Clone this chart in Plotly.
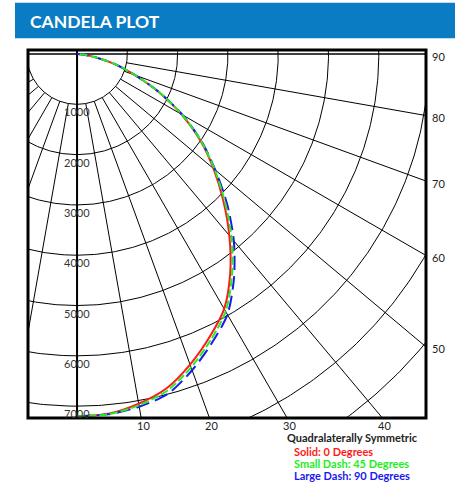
import numpy as np
import plotly.graph_objects as go

# ---------------- data ----------------
angles_deg = [0, 5, 10, 15, 20, 25, 30, 35, 40, 45, 50, 55, 60, 65, 70, 75, 80, 85, 90]
cd_0deg = [7200, 7180, 7060, 6880, 6570, 6220, 5850, 5310, 4710, 4110, 3540, 2990, 2400, 1800, 1220, 780, 380, 120, 0]
cd_45deg = [7200, 7190, 7090, 6930, 6630, 6280, 5910, 5370, 4780, 4160, 3570, 3010, 2410, 1810, 1230, 790, 380, 120, 0]
cd_90deg = [7200, 7190, 7120, 6990, 6690, 6340, 5980, 5440, 4850, 4220, 3590, 3020, 2420, 1810, 1230, 790, 380, 120, 0]

ring_values = [1000, 2000, 3000, 4000, 5000, 6000, 7000, 8000, 9000, 10000]
ring_labels = ["1000", "2000", "3000", "4000", "5000", "6000", "7000"]
spoke_angles = [-80, -70, -60, -50, -40, -30, -20, -10, 10, 20, 30, 40, 50, 60, 70, 80]
bottom_tick_angles = [10, 20, 30, 40]
right_tick_angles = [90, 80, 70, 60, 50]

title_text = "CANDELA PLOT"
note_text = "Quadralaterally Symmetric"
legend_texts = ["Solid: 0 Degrees", "Small Dash: 45 Degrees", "Large Dash: 90 Degrees"]
series_colors = ["#ff1a1a", "#22ee22", "#1a1aee"]

# ---------------- geometry ----------------
X_RANGE = [-975, 6938]
Y_RANGE = [-7236, 80]
W, H = 461, 482
ML, MR, MT, MB = 28, 35, 50, 64
PW, PH = W - ML - MR, H - MT - MB


def px_x(p):
    return (p - ML) / PW


def px_y(p):
    return (H - MB - p) / PH


def polar_xy(theta_deg, r):
    t = np.radians(np.asarray(theta_deg, dtype=float))
    r = np.asarray(r, dtype=float)
    return r * np.sin(t), -r * np.cos(t)


fig = go.Figure()

# rings
rx, ry = [], []
circ = np.linspace(0, 360, 721)
for rv in ring_values:
    x, y = polar_xy(circ, np.full_like(circ, rv))
    rx += list(x) + [None]
    ry += list(y) + [None]
fig.add_trace(go.Scatter(x=rx, y=ry, mode="lines", line=dict(color="black", width=1),
                         hoverinfo="skip", showlegend=False))

# spokes (from the first ring outward)
sx, sy = [], []
for a in spoke_angles:
    x, y = polar_xy([a, a], [ring_values[0], 20000])
    sx += list(x) + [None]
    sy += list(y) + [None]
fig.add_trace(go.Scatter(x=sx, y=sy, mode="lines", line=dict(color="black", width=1),
                         hoverinfo="skip", showlegend=False))

# axis lines through origin
fig.add_trace(go.Scatter(x=[X_RANGE[0], X_RANGE[1]], y=[0, 0], mode="lines",
                         line=dict(color="black", width=1.3), hoverinfo="skip", showlegend=False))
fig.add_trace(go.Scatter(x=[0, 0], y=[Y_RANGE[1], Y_RANGE[0]], mode="lines",
                         line=dict(color="black", width=2), hoverinfo="skip", showlegend=False))

# candela curves: red, blue, green (green on top)
x0, y0 = polar_xy(angles_deg, cd_0deg)
x45, y45 = polar_xy(angles_deg, cd_45deg)
x90, y90 = polar_xy(angles_deg, cd_90deg)
fig.add_trace(go.Scatter(x=x0, y=y0, mode="lines", name="0",
                         line=dict(color=series_colors[0], width=2, shape="spline", smoothing=0.8),
                         showlegend=False))
fig.add_trace(go.Scatter(x=x90, y=y90, mode="lines", name="90",
                         line=dict(color=series_colors[2], width=2, shape="spline", smoothing=0.8,
                                   dash="14px,6px"),
                         showlegend=False))
fig.add_trace(go.Scatter(x=x45, y=y45, mode="lines", name="45",
                         line=dict(color=series_colors[1], width=2, shape="spline", smoothing=0.8,
                                   dash="8px,3px"),
                         showlegend=False))

annotations = []
# ring labels
for lab in ring_labels:
    annotations.append(dict(x=0, y=-float(lab), xref="x", yref="y", text=lab, showarrow=False,
                            xanchor="center", yanchor="top", yshift=1,
                            font=dict(family="Lato", size=11, color="#333333")))
# bottom angle labels
for a in bottom_tick_angles:
    xb = -Y_RANGE[0] * np.tan(np.radians(a))
    annotations.append(dict(x=xb, y=0, xref="x", yref="paper", text=str(a), showarrow=False,
                            xanchor="center", yanchor="top", yshift=1, xshift=2,
                            font=dict(family="Lato", size=11, color="#222222")))
# right angle labels
for a in right_tick_angles:
    yr = -X_RANGE[1] * np.tan(np.radians(90 - a))
    annotations.append(dict(x=1, y=yr, xref="paper", yref="y", text=str(a), showarrow=False,
                            xanchor="left", yanchor="middle", xshift=4, yshift=-2,
                            font=dict(family="Lato", size=11, color="#222222")))
# title
annotations.append(dict(x=px_x(28), y=px_y(21.5), xref="paper", yref="paper", text="<b>" + title_text + "</b>",
                        showarrow=False, xanchor="left", yanchor="middle",
                        font=dict(family="Lato", size=17.5, color="white")))
# notes
annotations.append(dict(x=px_x(352), y=px_y(437), xref="paper", yref="paper", text="<b>" + note_text + "</b>",
                        showarrow=False, xanchor="center", yanchor="middle", borderpad=0,
                        font=dict(family="Lato", size=11, color="#222222")))
for txt, col, ypx in zip(legend_texts, series_colors, [451.3, 463.7, 475.6]):
    annotations.append(dict(x=px_x(293), y=px_y(ypx), xref="paper", yref="paper", text="<b>" + txt + "</b>",
                            showarrow=False, xanchor="left", yanchor="middle", borderpad=0,
                            font=dict(family="Lato", size=11, color=col)))

shapes = [
    dict(type="rect", xref="paper", yref="paper", x0=px_x(15), x1=px_x(455), y0=px_y(38.3), y1=px_y(2.7),
         fillcolor="#0a7cc4", line=dict(width=0), layer="below"),
    dict(type="rect", xref="paper", yref="paper", x0=0, x1=1, y0=0, y1=1,
         line=dict(color="black", width=3), layer="above"),
]

fig.update_layout(
    width=W, height=H,
    margin=dict(l=ML, r=MR, t=MT, b=MB, pad=0),
    paper_bgcolor="white", plot_bgcolor="white",
    xaxis=dict(range=X_RANGE, showgrid=False, zeroline=False, showticklabels=False, showline=False,
               ticks="", fixedrange=True),
    yaxis=dict(range=Y_RANGE, showgrid=False, zeroline=False, showticklabels=False, showline=False,
               ticks="", fixedrange=True),
    annotations=annotations,
    shapes=shapes,
    showlegend=False,
    font=dict(family="Lato"),
)

fig.write_html("out.html", config={"displayModeBar": False},
               post_script="document.body.style.margin='0';document.body.style.overflow='hidden';")
